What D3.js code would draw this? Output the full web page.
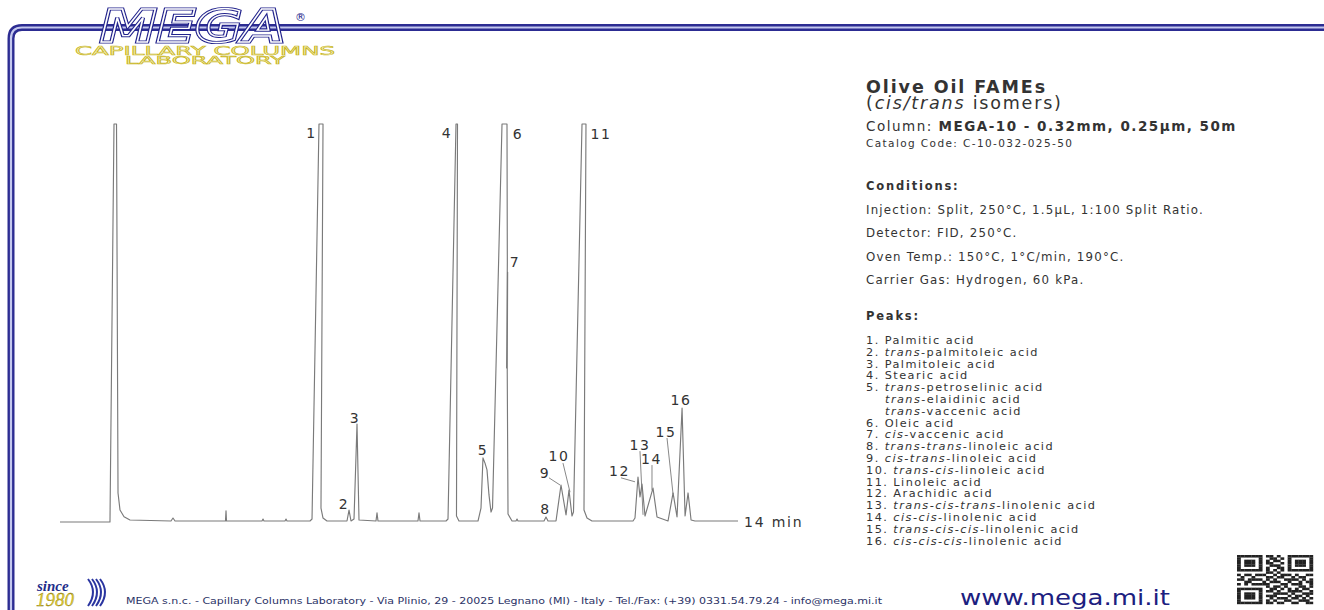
<!DOCTYPE html>
<html>
<head>
<meta charset="utf-8">
<script src="https://cdn.jsdelivr.net/npm/d3@7"></script>
<style>
  body { margin: 0; background: #fff; }
  svg { display: block; font-family: "DejaVu Sans", Verdana, sans-serif; }
</style>
</head>
<body>
<div id="chart"></div>
<script>
// Chromatogram trace: time (min) and signal (% of full scale, clipped at 100)
const traceTime = [0, 1.032, 1.115, 1.167, 1.198, 1.239, 1.322, 1.445, 2.292, 2.333, 2.375, 3.417, 3.428, 3.438,
  4.171, 4.192, 4.212, 4.646, 4.667, 4.687, 5.162, 5.204, 5.348, 5.431, 5.389, 5.431, 5.513, 5.926, 5.968, 6.009,
  6.071, 6.133, 6.174, 6.525, 6.546, 6.566, 7.392, 7.413, 7.434, 7.971, 8.012, 8.177, 8.208, 8.187, 8.238, 8.631,
  8.693, 8.734, 8.776, 8.817, 8.858, 8.900, 8.931, 9.127, 9.230, 9.237, 9.222, 9.243, 9.235, 9.251, 9.334, 9.416,
  9.437, 9.457, 9.994, 10.035, 10.077, 10.242, 10.345, 10.449, 10.510, 10.572, 10.603, 10.779, 10.861, 10.820,
  10.882, 10.985, 11.832, 11.873, 11.935, 11.976, 12.018, 12.080, 12.245, 12.328, 12.555, 12.659, 12.741, 12.845,
  12.907, 12.969, 13.031, 13.112, 14];
const traceSignal = [0, 0, 100, 100, 7.3, 3.0, 1.3, 0.5, 0.25, 1.0, 0.25, 0.25, 2.8, 0.25,
  0.25, 0.75, 0.25, 0.25, 0.75, 0.25, 0.25, 0.75, 100, 100, 3.5, 1.0, 0.25, 0.25, 3.0, 0.25,
  0.75, 24.6, 0.5, 0.25, 2.3, 0.25, 0.25, 2.3, 0.25, 0.25, 0.75, 100, 100, 1.5, 0.25, 0.25,
  3.5, 16.1, 14.8, 13.1, 6.8, 2.5, 3.5, 100, 100, 65.3, 38.7, 62.8, 37.7, 2.0, 0.25, 0.25,
  0.75, 0.25, 0.25, 1.25, 0.25, 0.25, 9.3, 1.8, 8.0, 1.5, 2.5, 100, 100, 3.0,
  1.0, 0.25, 0.25, 1.0, 11.3, 6.3, 9.5, 1.5, 8.5, 1.25, 0.25, 7.3, 1.25, 28.6,
  1.5, 7.3, 0.5, 0.25, 0.25];

// Peak numbers and where their labels sit (time, signal)
const peakIds = ["1", "2", "3", "4", "5", "6", "7", "8", "9", "10", "11", "12", "13", "14", "15", "16"];
const peakLabelTime = [5.193, 5.864, 6.091, 7.991, 8.734, 9.457, 9.395, 10.025, 10.015, 10.304, 11.171, 11.553, 11.976, 12.214, 12.513, 12.823];
const peakLabelSignal = [97.7, 4.5, 26.1, 97.7, 18.1, 97.5, 65.3, 3.3, 12.3, 16.6, 97.5, 12.8, 19.3, 15.8, 22.6, 30.7];

// Leader lines: peak id, start (time, signal) -> end (time, signal)
const leaderIds = ["9", "10", "12", "13", "14", "15"];
const leaderFrom = [[10.097, 11.1], [10.386, 14.8], [11.584, 11.1], [11.976, 17.8], [12.224, 14.3], [12.534, 21.1]];
const leaderTo = [[10.325, 9.3], [10.531, 7.5], [11.873, 10.1], [12.039, 1.8], [12.224, 8.0], [12.659, 7.0]];

const runEnd = 14;

const conditions = [
  "Injection: Split, 250°C, 1.5µL, 1:100 Split Ratio.",
  "Detector: FID, 250°C.",
  "Oven Temp.: 150°C, 1°C/min, 190°C.",
  "Carrier Gas: Hydrogen, 60 kPa."
];

// '*' toggles italics, '>' indents a continuation line
const peakNames = [
  "1. Palmitic acid",
  "2. *trans*-palmitoleic acid",
  "3. Palmitoleic acid",
  "4. Stearic acid",
  "5. *trans*-petroselinic acid",
  ">*trans*-elaidinic acid",
  ">*trans*-vaccenic acid",
  "6. Oleic acid",
  "7. *cis*-vaccenic acid",
  "8. *trans-trans*-linoleic acid",
  "9. *cis-trans*-linoleic acid",
  "10. *trans-cis*-linoleic acid",
  "11. Linoleic acid",
  "12. Arachidic acid",
  "13. *trans-cis-trans*-linolenic acid",
  "14. *cis-cis*-linolenic acid",
  "15. *trans-cis-cis*-linolenic acid",
  "16. *cis-cis-cis*-linolenic acid"
];

const qrRows = [
  "111111101101001111111",
  "100000100110101000001",
  "101110101011001011101",
  "101110101100101011101",
  "101110100111001011101",
  "100000101001101000001",
  "111111101010101111111",
  "000000001101000000000",
  "101101110010111010011",
  "010010001101100101100",
  "110111101010011110101",
  "001100010111001001011",
  "101011111000110111001",
  "000000001011010001101",
  "111111100110101010110",
  "100000101101001111001",
  "101110100011110100111",
  "101110101110001011010",
  "101110100101110110101",
  "100000101010011001110",
  "111111101101100110011"
];

const W = 1324, H = 610;
const svg = d3.select("#chart").append("svg").attr("width", W).attr("height", H);
svg.append("rect").attr("width", W).attr("height", H).attr("fill", "#fff");

// Frame (double blue line)
const framePath = "M 1324 27.5 H 22 Q 11 27.5 11 38.5 V 612";
svg.append("path").attr("d", framePath).attr("fill", "none").attr("stroke", "#2c2c92").attr("stroke-width", 7);
svg.append("path").attr("d", framePath).attr("fill", "none").attr("stroke", "#c4c8ee").attr("stroke-width", 2.2);

// Logo
const logo = svg.append("g");
logo.append("text").attr("x", 100).attr("y", 42).text("MEGA")
  .attr("font-size", 44).attr("font-weight", "bold").attr("font-style", "italic")
  .attr("textLength", 186).attr("lengthAdjust", "spacingAndGlyphs")
  .attr("fill", "none").attr("stroke", "#22238c").attr("stroke-width", 3.2);
logo.append("text").attr("x", 100).attr("y", 42).text("MEGA")
  .attr("font-size", 44).attr("font-weight", "bold").attr("font-style", "italic")
  .attr("textLength", 186).attr("lengthAdjust", "spacingAndGlyphs")
  .attr("fill", "none").attr("stroke", "#fff").attr("stroke-width", 1.3);
logo.append("text").attr("x", 295).attr("y", 21).text("®").attr("font-size", 11).attr("fill", "#22238c");
logo.append("text").attr("x", 75).attr("y", 54.5).text("CAPILLARY COLUMNS")
  .attr("font-size", 11.5).attr("textLength", 260).attr("lengthAdjust", "spacingAndGlyphs")
  .attr("fill", "#f4efb8").attr("stroke", "#c8b520").attr("stroke-width", 0.55);
logo.append("text").attr("x", 125).attr("y", 64).text("LABORATORY")
  .attr("font-size", 11).attr("textLength", 160).attr("lengthAdjust", "spacingAndGlyphs")
  .attr("fill", "#f4efb8").attr("stroke", "#c8b520").attr("stroke-width", 0.55);

// Chromatogram
const x = d3.scaleLinear().domain([0, runEnd]).range([60, 738]);
const y = d3.scaleLinear().domain([0, 100]).range([522, 124]).clamp(true);

const trace = traceTime.map((t, i) => [t, traceSignal[i]]);
svg.append("path")
  .datum(trace)
  .attr("fill", "none")
  .attr("stroke", "#7a7a7a")
  .attr("stroke-width", 1.15)
  .attr("stroke-linejoin", "round")
  .attr("d", d3.line().x(d => x(d[0])).y(d => y(d[1])));

svg.append("g").selectAll("line")
  .data(leaderIds.map((id, i) => ({ id, from: leaderFrom[i], to: leaderTo[i] })))
  .join("line")
  .attr("x1", d => x(d.from[0])).attr("y1", d => y(d.from[1]))
  .attr("x2", d => x(d.to[0])).attr("y2", d => y(d.to[1]))
  .attr("stroke", "#7a7a7a").attr("stroke-width", 0.9);

svg.append("g").selectAll("text")
  .data(peakIds.map((id, i) => ({ id, t: peakLabelTime[i], s: peakLabelSignal[i] })))
  .join("text")
  .attr("x", d => x(d.t))
  .attr("y", d => y(d.s))
  .attr("text-anchor", "middle")
  .attr("dominant-baseline", "central")
  .attr("font-size", 14)
  .attr("letter-spacing", 1.5)
  .attr("fill", "#333")
  .text(d => d.id);

svg.append("text")
  .attr("x", x(runEnd) + 6).attr("y", y(0))
  .attr("dominant-baseline", "central")
  .attr("font-size", 14).attr("letter-spacing", 1.8).attr("fill", "#333")
  .text(runEnd + " min");

// Text panel
const panel = svg.append("g").attr("fill", "#333");
panel.append("text").attr("x", 866).attr("y", 93).attr("font-size", 17.5).attr("font-weight", "bold")
  .attr("letter-spacing", 1.9).text("Olive Oil FAMEs");
const sub = panel.append("text").attr("x", 866).attr("y", 109).attr("font-size", 17.5).attr("letter-spacing", 1.8);
sub.append("tspan").text("(");
sub.append("tspan").attr("font-style", "italic").text("cis/trans");
sub.append("tspan").text(" isomers)");

const col = panel.append("text").attr("x", 866).attr("y", 131).attr("font-size", 13.5).attr("letter-spacing", 1.5);
col.append("tspan").text("Column: ");
col.append("tspan").attr("font-weight", "bold").text("MEGA-10 - 0.32mm, 0.25µm, 50m");
panel.append("text").attr("x", 866).attr("y", 147).attr("font-size", 10.5).attr("letter-spacing", 1.4)
  .text("Catalog Code: C-10-032-025-50");

panel.append("text").attr("x", 866).attr("y", 190).attr("font-size", 11.5).attr("font-weight", "bold")
  .attr("letter-spacing", 1.8).text("Conditions:");
panel.selectAll("text.cond").data(conditions).join("text").attr("class", "cond")
  .attr("x", 866).attr("y", (d, i) => 214 + i * 23.4)
  .attr("font-size", 11.8).attr("letter-spacing", 1.2).text(d => d);

panel.append("text").attr("x", 866).attr("y", 320).attr("font-size", 11.5).attr("font-weight", "bold")
  .attr("letter-spacing", 1.8).text("Peaks:");

peakNames.forEach((name, i) => {
  const indent = name.startsWith(">");
  const txt = panel.append("text")
    .attr("x", indent ? 885 : 866)
    .attr("y", 344 + i * 11.8)
    .attr("font-size", 11.3)
    .attr("letter-spacing", 1.45);
  name.replace(">", "").split("*").forEach((part, j) => {
    if (!part) return;
    const ts = txt.append("tspan").text(part);
    if (j % 2 === 1) ts.attr("font-style", "italic");
  });
});

// Footer
const since = svg.append("g");
since.append("text").attr("x", 37).attr("y", 591).attr("font-family", "Liberation Serif, serif")
  .attr("font-size", 15).attr("font-weight", "bold").attr("font-style", "italic").attr("fill", "#1f2d8a").text("since");
since.append("text").attr("x", 36).attr("y", 606).attr("font-family", "Liberation Serif, serif")
  .attr("font-size", 19).attr("font-style", "italic").attr("fill", "#e2cc30")
  .attr("stroke", "#8a7a10").attr("stroke-width", 0.3).text("1980");
[0, 4, 8, 12].forEach(o => {
  since.append("path")
    .attr("d", `M ${88 + o} 579 Q ${98 + o} 592 ${88 + o} 606`)
    .attr("fill", "none").attr("stroke", "#2a35a0").attr("stroke-width", 2);
});

svg.append("text").attr("x", 126).attr("y", 604).attr("font-size", 8).attr("fill", "#2b3266")
  .attr("textLength", 756).attr("lengthAdjust", "spacingAndGlyphs")
  .text("MEGA s.n.c. - Capillary Columns Laboratory - Via Plinio, 29 - 20025 Legnano (MI) - Italy - Tel./Fax: (+39) 0331.54.79.24 - info@mega.mi.it");

svg.append("text").attr("x", 960).attr("y", 605).attr("font-size", 22).attr("fill", "#1c2080")
  .attr("textLength", 210).attr("lengthAdjust", "spacingAndGlyphs").text("www.mega.mi.it");

// QR code block
const qr = svg.append("g").attr("transform", "translate(1237,555)");
const cw = 76 / qrRows[0].length, ch = 49 / qrRows.length;
qrRows.forEach((row, r) => {
  row.split("").forEach((c, k) => {
    if (c === "1") qr.append("rect").attr("x", k * cw).attr("y", r * ch)
      .attr("width", cw + 0.2).attr("height", ch + 0.2).attr("fill", "#222");
  });
});
</script>
</body>
</html>
